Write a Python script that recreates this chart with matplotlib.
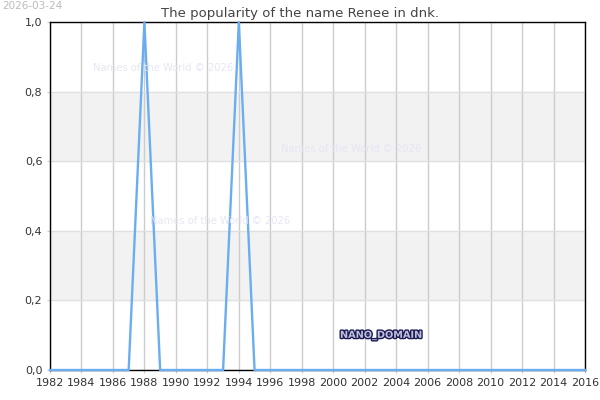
import numpy as np
import matplotlib.pyplot as plt
import matplotlib.patheffects as pe
from matplotlib.ticker import FuncFormatter, MultipleLocator

plt.rcParams['font.family'] = ['DejaVu Sans']

# data
years = list(range(1982, 2017))
popularity = [0, 0, 0, 0, 0, 0, 1, 0, 0, 0, 0, 0, 1, 0, 0, 0, 0, 0, 0, 0,
              0, 0, 0, 0, 0, 0, 0, 0, 0, 0, 0, 0, 0, 0, 0]
title = 'The popularity of the name Renee in dnk.'
date_text = '2026-03-24'
watermark = 'Names of the World © 2026'

fig = plt.figure(figsize=(6, 4), dpi=100)
ax = fig.add_axes([50 / 600, 30 / 400, 535 / 600, 348 / 400])

# alternating bands
for lo in (0.2, 0.6):
    ax.axhspan(lo, lo + 0.2, color='#f2f2f2', zorder=0)

ax.plot(years, popularity, color='#6aaef0', linewidth=1.7, zorder=3, clip_on=False)

ax.set_xlim(1982, 2016)
ax.set_ylim(0, 1)
ax.xaxis.set_major_locator(MultipleLocator(2))
ax.yaxis.set_major_locator(MultipleLocator(0.2))
ax.yaxis.set_major_formatter(FuncFormatter(lambda v, p: f'{v:.1f}'.replace('.', ',')))
ax.grid(axis='x', color='#cccccc', linewidth=1)
ax.grid(axis='y', color='#e0e0e0', linewidth=1)
ax.set_axisbelow(True)
ax.tick_params(axis='both', labelsize=8, labelcolor='#333333', color='#cccccc', length=2)
for s in ax.spines.values():
    s.set_color('black')
    s.set_linewidth(1)

fig.text(0.5, 378 / 400 + 0.005, title, ha='center', va='bottom', fontsize=9.5, color='#444444')
fig.text(0.003, 0.998, date_text, ha='left', va='top', fontsize=7.5, color='#bbbbbb')

for x, y in [(93, 68), (281, 149), (150, 221)]:
    fig.text(x / 600, 1 - y / 400, watermark, ha='left', va='center', fontsize=7.2,
             color='#e6e6f5', zorder=1)

fig.text(340 / 600, 1 - 335 / 400, 'NANO_DOMAIN', ha='left', va='center', fontsize=7,
         color='#c0c0e0', fontweight='bold',
         path_effects=[pe.withStroke(linewidth=2, foreground='#1a1a50')])

fig.savefig('out.png', dpi=100)
